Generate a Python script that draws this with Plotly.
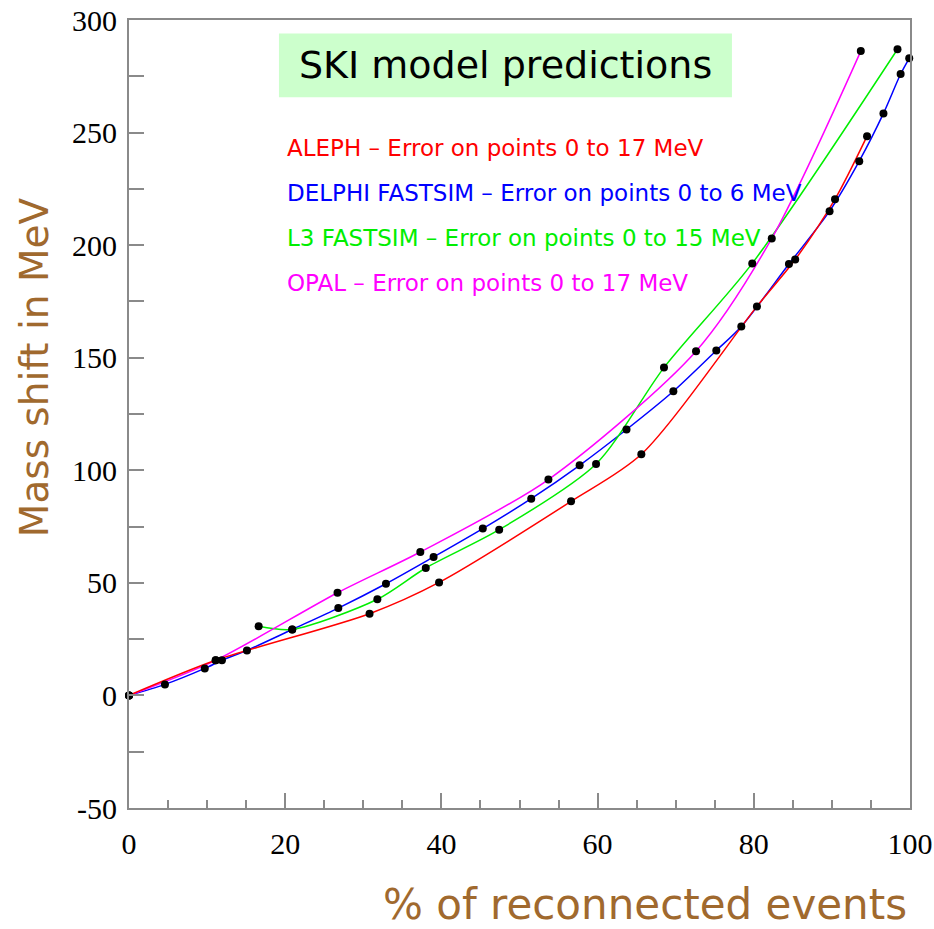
import plotly.graph_objects as go

# Mass shift (MeV) versus fraction of reconnected events, per experiment
aleph_x = [0, 11.1, 30.8, 39.7, 56.6, 65.6, 80.4, 85.3, 90.4, 94.5]
aleph_y = [0, 15.6, 36.3, 50.2, 86.2, 107.1, 172.8, 193.6, 220.4, 248.4]

delphi_x = [0, 4.6, 9.7, 11.9, 15.1, 20.9, 26.8, 32.9, 39.0, 45.3, 51.5,
            57.7, 63.7, 69.7, 75.2, 78.4, 84.5, 89.7, 93.5, 96.6, 98.8, 99.9]
delphi_y = [0, 4.9, 12.0, 15.6, 20.0, 29.3, 38.8, 49.6, 61.5, 74.1, 87.4,
            102.2, 118.1, 135.1, 153.2, 163.9, 191.6, 215.1, 237.3, 258.5, 276.0, 283.0]

l3_x = [16.6, 20.9, 31.8, 38.0, 47.4, 59.8, 68.5, 79.8, 98.4]
l3_y = [30.7, 29.3, 42.7, 56.6, 73.6, 102.8, 145.6, 191.9, 287.0]

opal_x = [0, 11.1, 26.7, 37.3, 53.7, 72.6, 82.3, 93.7]
opal_y = [0, 15.6, 45.6, 63.7, 95.9, 152.9, 203.0, 286.2]

legend_labels = [
    "ALEPH \u2013 Error on points 0 to 17 MeV",
    "DELPHI FASTSIM \u2013 Error on points 0 to 6 MeV",
    "L3 FASTSIM \u2013 Error on points 0 to 15 MeV",
    "OPAL \u2013 Error on points 0 to 17 MeV",
]
legend_y = [243, 223, 203, 183]

x_ticks = [0, 20, 40, 60, 80, 100]
x_ticktext = ["0", "20", "40", "60", "80", "100"]
y_ticks = [-50, 0, 50, 100, 150, 200, 250, 300]
y_ticktext = ["-50", "0", "50", "100", "150", "200", "250", "300"]

series = [
    (delphi_x, delphi_y, "#0000FF"),
    (l3_x, l3_y, "#00EE00"),
    (opal_x, opal_y, "#FF00FF"),
    (aleph_x, aleph_y, "#FF0000"),
]
label_colors = ["#FF0000", "#0000FF", "#00EE00", "#FF00FF"]

fig = go.Figure()

# smooth curves first
for xs, ys, col in series:
    fig.add_trace(go.Scatter(x=xs, y=ys, mode="lines",
                             line=dict(color=col, width=1.5, shape="spline", smoothing=0.8),
                             hoverinfo="skip"))
# black data points on top
for xs, ys, col in series:
    fig.add_trace(go.Scatter(x=xs, y=ys, mode="markers",
                             marker=dict(color="black", size=8),
                             cliponaxis=False))

# title box
fig.add_shape(type="rect", xref="paper", yref="paper",
              x0=0.192, x1=0.772, y0=0.902, y1=0.983,
              fillcolor="#CCFFCC", line=dict(width=0), layer="below")
fig.add_annotation(xref="paper", yref="paper", x=0.482, y=0.9425,
                   text="SKI model predictions", showarrow=False,
                   xanchor="center", yanchor="middle",
                   font=dict(family="DejaVu Sans", size=38, color="black"))

for txt, yv, col in zip(legend_labels, legend_y, label_colors):
    fig.add_annotation(x=20, y=yv, text=txt, showarrow=False,
                       xanchor="left", yanchor="middle",
                       font=dict(family="DejaVu Sans", size=23, color=col))

# axis titles
title_col = "#A0692E"
fig.add_annotation(xref="paper", yref="paper", x=-0.121, y=0.56,
                   text="Mass shift in MeV", textangle=-90, showarrow=False,
                   xanchor="center", yanchor="middle",
                   font=dict(family="DejaVu Sans", size=39, color=title_col))
fig.add_annotation(xref="paper", yref="paper", x=0.661, y=-0.123,
                   text="% of reconnected events", showarrow=False,
                   xanchor="center", yanchor="middle",
                   font=dict(family="DejaVu Sans", size=42, color=title_col))

axis_line = "#8A8A8A"
fig.update_xaxes(range=[0, 100], tickvals=x_ticks, ticktext=x_ticktext,
                 ticks="inside", ticklen=15, tickcolor=axis_line, tickwidth=1.5,
                 minor=dict(dtick=5, ticks="inside", ticklen=8, tickcolor=axis_line, tickwidth=1.5),
                 showline=True, linecolor=axis_line, linewidth=2, mirror=True,
                 showgrid=False, zeroline=False, ticklabelstandoff=8, automargin=False,
                 tickfont=dict(family="Liberation Serif", size=30, color="black"))
fig.update_yaxes(range=[-50, 300], tickvals=y_ticks, ticktext=y_ticktext,
                 ticks="inside", ticklen=15, tickcolor=axis_line, tickwidth=1.5,
                 minor=dict(dtick=25, ticks="inside", ticklen=15, tickcolor=axis_line, tickwidth=1.5),
                 showline=True, linecolor=axis_line, linewidth=2, mirror=True,
                 showgrid=False, zeroline=False, ticklabelstandoff=4, automargin=False,
                 tickfont=dict(family="Liberation Serif", size=30, color="black"))

fig.update_layout(width=934, height=929, showlegend=False,
                  plot_bgcolor="white", paper_bgcolor="white",
                  margin=dict(l=129, r=24, t=20, b=121))

fig.write_html("out.html")
